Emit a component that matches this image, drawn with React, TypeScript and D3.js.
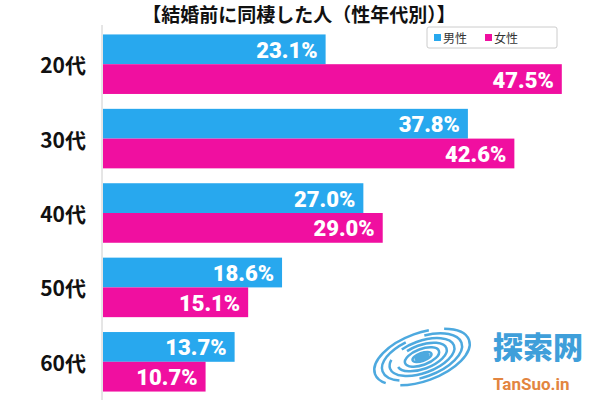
import React from "react";
import * as d3 from "d3";

const categories = ["20代", "30代", "40代", "50代", "60代"];
const seriesNames = ["男性", "女性"];
const maleValues = [23.1, 37.8, 27.0, 18.6, 13.7];
const femaleValues = [47.5, 42.6, 29.0, 15.1, 10.7];
const titleText = "【結婚前に同棲した人（性年代別）】";

const W = 600;
const H = 400;
const BLUE = "#28a8ee";
const PINK = "#f00fa0";
const colors = [BLUE, PINK];
const JP = "'Noto Sans CJK JP', 'Noto Sans', sans-serif";
const NUM = "Roboto, 'Noto Sans', sans-serif";

export default function App() {
  const x = d3.scaleLinear().domain([0, 50]).range([102, 586]);
  const y = d3.scaleBand<string>().domain(categories).range([27, 399]).paddingInner(0.2).paddingOuter(0.1);
  const inner = d3.scaleBand<string>().domain(seriesNames).range([0, y.bandwidth()]);
  const series = [maleValues, femaleValues];

  const swirl = d3.range(6);

  return (
    <svg width={W} height={H} style={{ position: "absolute", left: 0, top: 0, background: "#fff" }}>
      <text x={299} y={22} textAnchor="middle" fontFamily={JP} fontWeight={700} fontSize={19} fill="#111">
        {titleText}
      </text>
      <line x1={x(0)} x2={x(0)} y1={25} y2={H} stroke="#ccc" strokeWidth={1} />
      {categories.map((c, i) => (
        <g key={c}>
          <text x={86} y={(y(c) ?? 0) + y.bandwidth() / 2} textAnchor="end" dominantBaseline="central" fontFamily={JP} fontWeight={700} fontSize={21} fill="#111">
            {c}
          </text>
          {seriesNames.map((s, j) => {
            const v = series[j][i];
            const by = (y(c) ?? 0) + (inner(s) ?? 0);
            return (
              <g key={s}>
                <rect x={x(0) + 1} y={by} width={x(v) - x(0) - 1} height={inner.bandwidth()} fill={colors[j]} />
                <text x={x(v) - 8} y={by + inner.bandwidth() / 2 + 1} textAnchor="end" dominantBaseline="central" fontFamily={NUM} fontWeight={900} fontSize={22} fill="#fff">
                  {v.toFixed(1) + "%"}
                </text>
              </g>
            );
          })}
        </g>
      ))}
      <g>
        <rect x={427} y={27} width={130} height={21} rx={2} fill="#fff" stroke="#ccc" />
        {seriesNames.map((s, j) => (
          <g key={s} transform={`translate(${434 + j * 51},37.5)`}>
            <rect x={0} y={-3.5} width={7} height={7} fill={colors[j]} />
            <text x={9} y={0} dominantBaseline="central" fontFamily={JP} fontSize={12} fill="#333">
              {s}
            </text>
          </g>
        ))}
      </g>
      <g opacity={0.9}>
        <g transform="translate(422,357) rotate(-20)">
          {swirl.map((k) => (
            <ellipse key={k} cx={0} cy={0} rx={50 - k * 8} ry={24 - k * 4} fill="none" stroke="#3aa0dc" strokeWidth={2.5} strokeDasharray={k % 2 ? "60 20" : "90 15"} />
          ))}
          <ellipse cx={0} cy={0} rx={8} ry={4} fill="#3aa0dc" />
        </g>
        <text x={493} y={358} fontFamily={JP} fontWeight={900} fontSize={30} fill="#2b95d6">探索网</text>
        <text x={493} y={390} fontFamily={NUM} fontWeight={700} fontSize={17} fill="#e0782c">TanSuo.in</text>
      </g>
    </svg>
  );
}
